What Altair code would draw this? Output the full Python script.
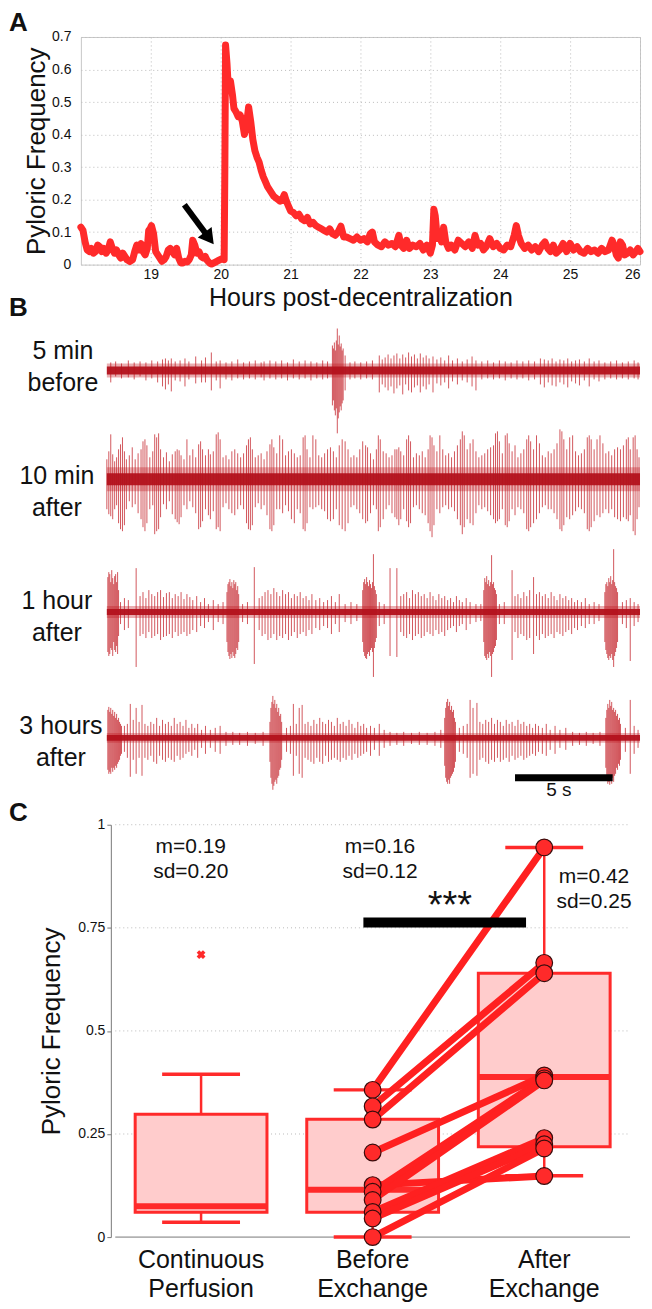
import altair as alt
import pandas as pd

FONT = "Liberation Sans"
RED = "#ff2a2a"
TRACE_RED = "#c0161f"
CORE_RED = "#b3121c"

# ---------------- Panel A: pyloric frequency vs time ----------------
hours = [18.00, 18.03, 18.06, 18.09, 18.12, 18.15, 18.18, 18.21, 18.24, 18.27, 18.30, 18.33, 18.36, 18.39,
         18.42, 18.45, 18.48, 18.51, 18.54, 18.57, 18.60, 18.63, 18.66, 18.70, 18.74, 18.77, 18.80, 18.83,
         18.86, 18.89, 18.92, 18.95, 18.97, 18.99, 19.01, 19.04, 19.07, 19.10, 19.13, 19.16, 19.19, 19.22,
         19.25, 19.28, 19.31, 19.34, 19.37, 19.40, 19.43, 19.46, 19.49, 19.52, 19.55, 19.58, 19.60, 19.63,
         19.66, 19.69, 19.72, 19.75, 19.78, 19.81, 19.84, 19.87, 19.90, 19.93, 19.96, 19.99, 20.02, 20.05,
         20.06, 20.07, 20.09, 20.11, 20.14, 20.17, 20.19, 20.22, 20.25, 20.28, 20.31, 20.34, 20.37, 20.40,
         20.43, 20.46, 20.49, 20.52, 20.55, 20.58, 20.61, 20.64, 20.67, 20.70, 20.73, 20.76, 20.79, 20.82,
         20.85, 20.88, 20.91, 20.94, 20.97, 21.00, 21.04, 21.08, 21.12, 21.16, 21.20, 21.24, 21.28, 21.32,
         21.36, 21.40, 21.44, 21.48, 21.52, 21.56, 21.60, 21.64, 21.68, 21.72, 21.76, 21.80, 21.85, 21.90,
         21.95, 22.00, 22.05, 22.10, 22.14, 22.17, 22.20, 22.25, 22.30, 22.35, 22.40, 22.45, 22.50, 22.55,
         22.58, 22.62, 22.66, 22.70, 22.75, 22.80, 22.85, 22.90, 22.95, 23.00, 23.03, 23.05, 23.07, 23.10,
         23.13, 23.16, 23.19, 23.22, 23.26, 23.30, 23.35, 23.40, 23.45, 23.50, 23.55, 23.60, 23.64, 23.68,
         23.72, 23.76, 23.80, 23.85, 23.90, 23.95, 24.00, 24.05, 24.10, 24.15, 24.20, 24.23, 24.26, 24.30,
         24.35, 24.40, 24.45, 24.50, 24.55, 24.60, 24.64, 24.68, 24.72, 24.76, 24.80, 24.85, 24.90, 24.95,
         25.00, 25.05, 25.10, 25.15, 25.20, 25.25, 25.30, 25.35, 25.40, 25.45, 25.50, 25.55, 25.60, 25.63,
         25.66, 25.69, 25.72, 25.75, 25.78, 25.82, 25.86, 25.90, 25.94, 25.97, 26.00]
pyloric_freq = [0.115, 0.105, 0.070, 0.045, 0.040, 0.050, 0.035, 0.040, 0.060, 0.055, 0.040, 0.050, 0.035, 0.045,
                0.070, 0.050, 0.035, 0.045, 0.030, 0.020, 0.035, 0.025, 0.015, 0.010, 0.015, 0.040, 0.060, 0.045,
                0.065, 0.040, 0.030, 0.050, 0.105, 0.110, 0.120, 0.095, 0.040, 0.030, 0.020, 0.010, 0.015, 0.025,
                0.045, 0.050, 0.040, 0.030, 0.050, 0.020, 0.005, 0.005, 0.010, 0.008, 0.015, 0.030, 0.075, 0.060,
                0.035, 0.040, 0.025, 0.020, 0.025, 0.012, 0.005, 0.002, 0.005, 0.008, 0.012, 0.015, 0.018, 0.015,
                0.300, 0.675, 0.620, 0.540, 0.565, 0.520, 0.480, 0.470, 0.455, 0.460, 0.440, 0.400, 0.430, 0.485,
                0.440, 0.385, 0.350, 0.330, 0.315, 0.290, 0.270, 0.255, 0.240, 0.230, 0.220, 0.210, 0.205, 0.200,
                0.195, 0.200, 0.215, 0.195, 0.180, 0.165, 0.160, 0.150, 0.155, 0.140, 0.135, 0.145, 0.125, 0.130,
                0.120, 0.115, 0.110, 0.105, 0.100, 0.110, 0.095, 0.090, 0.100, 0.118, 0.085, 0.085, 0.080, 0.075,
                0.085, 0.075, 0.080, 0.070, 0.095, 0.100, 0.070, 0.060, 0.055, 0.070, 0.060, 0.065, 0.055, 0.090,
                0.060, 0.050, 0.075, 0.050, 0.060, 0.055, 0.065, 0.045, 0.060, 0.035, 0.060, 0.170, 0.150, 0.080,
                0.090, 0.070, 0.115, 0.070, 0.050, 0.060, 0.045, 0.075, 0.065, 0.055, 0.070, 0.050, 0.090, 0.060,
                0.065, 0.045, 0.055, 0.080, 0.055, 0.065, 0.050, 0.045, 0.060, 0.055, 0.090, 0.120, 0.090, 0.065,
                0.050, 0.060, 0.045, 0.055, 0.040, 0.060, 0.070, 0.050, 0.040, 0.060, 0.035, 0.045, 0.065, 0.040,
                0.065, 0.045, 0.055, 0.040, 0.035, 0.050, 0.040, 0.045, 0.035, 0.050, 0.040, 0.045, 0.075, 0.060,
                0.030, 0.020, 0.070, 0.060, 0.030, 0.035, 0.045, 0.030, 0.040, 0.050, 0.040]
x_ticks_a = [19, 20, 21, 22, 23, 24, 25, 26]
y_ticks_a = [0, 0.1, 0.2, 0.3, 0.4, 0.5, 0.6, 0.7]
arrow_start = (19.48, 0.184)
arrow_tip = (19.836, 0.081)

# ---------------- Panel B: extracellular traces ----------------
SAMPLE_DT = 0.05  # seconds per bin
trace_labels = ["5 min\nbefore", "10 min\nafter", "1 hour\nafter", "3 hours\nafter"]
# (bin, upward amplitude, downward amplitude)
trace1 = [(4,8,12),(9,9,6),(15,7,8),(22,10,7),(28,8,9),(34,9,6),(40,8,10),(46,10,8),(52,9,12),(57,11,16),
          (60,12,19),(63,10,14),(66,12,21),(70,9,10),(75,10,11),(80,12,16),(84,9,9),(91,14,13),(97,10,12),
          (101,13,12),(107,18,20),(112,9,10),(116,10,18),(122,8,9),(128,9,10),(134,11,8),(140,8,9),(146,9,8),
          (152,10,9),(158,8,7),(161,9,10),(167,10,8),(173,9,9),(179,10,8),(185,8,10),(191,11,8),(197,9,9),
          (203,10,8),(209,9,10),(215,8,8),(221,10,9),(226,9,8),
          (231,25,35),(232,22,30),(233,28,40),(234,20,45),(235,30,38),(236,42,63),(237,26,48),(238,35,42),
          (239,24,36),(240,27,40),(241,20,33),(242,22,30),(244,15,20),
          (249,8,9),(254,9,8),(260,8,9),(266,9,8),(272,10,9),
          (279,15,22),(282,11,14),(285,13,17),(288,16,20),(291,12,16),(294,15,23),(297,17,18),(300,12,15),
          (303,16,24),(306,13,14),(309,18,20),(312,14,22),(315,16,17),(318,12,15),(321,17,22),(324,13,16),
          (327,15,19),(330,12,14),(334,14,22),(338,11,13),(342,13,15),(346,10,12),(350,15,18),(354,10,11),
          (359,12,14),(364,9,10),(369,11,12),(374,14,16),(378,10,20),
          (384,9,9),(390,10,8),(396,8,9),(402,10,8),(408,9,10),(414,8,8),(420,10,9),(426,9,8),(432,10,10),
          (438,9,9),(444,12,14),(448,11,17),(452,10,12),(456,12,15),(460,9,16),(464,11,12),(468,10,14),
          (472,12,17),(476,9,11),(480,10,13),(484,11,15),(489,9,10),(494,12,16),(499,9,9),(504,10,11),
          (510,8,9),(516,9,8),(522,10,9),(528,8,8),(534,9,9),(540,10,8),(544,8,9)]
trace2 = [(0,20,30),(2,28,35),(4,45,37),(6,25,40),(8,18,30),(10,22,26),(12,30,44),(14,35,50),(16,42,52),
          (18,28,46),(20,20,30),(23,24,22),(26,32,28),(29,20,25),(32,26,34),(35,30,40),(37,38,48),(39,40,52),
          (41,34,44),(44,22,30),(47,28,26),(49,45,55),(51,42,52),(53,46,50),(55,30,38),(58,22,25),(61,27,30),
          (64,18,22),(67,25,35),(70,28,40),(72,30,43),(74,29,45),(76,24,38),(79,20,26),(82,40,30),(85,24,22),
          (88,30,28),(91,22,34),(94,35,50),(96,38,48),(98,30,42),(101,24,30),(104,30,36),(106,25,40),
          (109,28,32),(112,45,50),(114,47,48),(116,40,52),(119,22,28),(122,24,24),(125,20,30),(128,28,34),
          (131,30,36),(134,26,30),(137,22,26),(140,26,30),(143,34,44),(145,40,50),(147,42,51),(149,30,46),
          (152,22,28),(155,24,24),(158,26,30),(161,20,26),(164,28,36),(167,35,50),(169,40,52),(171,32,46),
          (174,26,30),(177,44,30),(180,40,34),(183,24,26),(186,28,32),(189,30,40),(192,26,44),(195,22,30),
          (198,24,34),(201,42,50),(203,44,52),(205,30,44),(208,22,28),(211,44,30),(214,40,28),(217,24,26),
          (220,22,30),(223,26,32),(226,30,40),(229,32,42),(232,28,40),(235,22,30),(238,34,46),(241,40,50),
          (244,38,52),(247,30,44),(250,22,28),(253,24,26),(256,22,30),(259,30,34),(262,38,40),(265,34,44),
          (267,32,42),(270,26,34),(273,20,26),(276,30,30),(278,44,52),(280,40,48),(283,28,40),(286,26,30),
          (289,22,26),(292,24,34),(295,30,38),(297,30,40),(299,32,46),(301,28,40),(304,24,30),(307,40,42),
          (309,44,48),(311,38,44),(314,22,28),(317,26,26),(320,24,30),(323,28,34),(326,22,36),(329,30,44),
          (331,44,52),(333,42,58),(335,34,46),(338,28,30),(341,44,34),(344,30,28),(347,24,26),(350,26,30),
          (353,22,28),(356,28,32),(359,34,40),(362,40,46),(364,48,55),(366,44,48),(369,30,40),(372,36,44),
          (375,40,46),(378,28,34),(381,22,26),(384,24,30),(387,26,28),(390,30,32),(393,32,36),(396,34,40),
          (398,46,44),(400,48,42),(402,38,40),(405,26,30),(408,44,46),(410,46,48),(412,36,42),(415,28,30),
          (418,34,36),(421,22,28),(424,26,30),(427,30,34),(430,40,50),(432,44,52),(434,38,48),(437,30,44),
          (440,44,40),(443,36,34),(446,24,28),(449,22,26),(452,28,30),(455,26,30),(458,30,34),(461,36,40),
          (464,50,50),(466,48,52),(468,40,46),(471,30,38),(474,42,40),(477,44,36),(480,28,32),(483,24,28),
          (486,26,30),(489,30,34),(492,42,50),(494,44,52),(496,40,48),(499,30,42),(502,40,36),(505,44,38),
          (508,36,34),(511,26,30),(514,28,34),(517,24,30),(520,30,38),(523,32,40),(526,30,42),(529,34,38),
          (532,40,40),(534,42,42),(536,30,36),(539,42,52),(541,44,56),(543,30,40),(545,22,28)]
trace3 = [(1,35,40),(2,40,44),(3,38,42),(4,30,36),(5,42,38),(6,34,44),(7,28,30),(8,36,38),(9,38,40),(10,30,34),
          (11,40,42),(12,22,24),(14,10,12),(18,14,18),(22,12,16),(30,44,55),
          (34,16,24),(37,20,22),(40,14,26),(43,22,20),(46,18,26),(49,16,24),(52,20,22),(55,22,28),(58,15,25),
          (61,19,24),(64,20,22),(67,14,26),(70,18,20),(73,16,24),(76,20,22),(79,13,20),(82,18,24),(85,15,22),
          (88,12,18),(92,16,20),(96,10,14),(100,14,16),(104,8,10),(109,12,18),(114,8,10),(119,10,12),
          (123,20,30),(124,28,40),(125,30,44),(126,33,47),(127,26,42),(128,30,46),(129,24,40),(130,32,44),
          (131,28,46),(132,30,42),(133,22,36),(134,26,38),(135,18,30),(139,8,10),(144,10,12),(151,45,52),
          (156,14,18),(159,16,24),(162,20,22),(165,22,28),(168,18,26),(171,24,22),(174,20,28),(177,16,24),
          (180,22,26),(183,18,22),(186,20,28),(189,14,24),(192,18,20),(195,16,26),(198,20,22),(201,14,20),
          (204,16,24),(207,12,18),(210,18,22),(214,12,16),(218,14,18),(222,10,14),(226,12,16),(230,16,22),
          (234,10,12),(238,18,20),(244,8,10),(250,10,12),(256,8,9),
          (262,22,30),(263,30,40),(264,33,44),(265,28,46),(266,35,47),(267,30,42),(268,26,40),(269,32,44),
          (270,28,38),(271,24,36),(272,30,40),(273,58,65),(274,26,36),(275,22,30),(276,18,26),
          (279,10,14),(284,8,12),(290,44,44),(297,44,45),
          (301,16,20),(304,18,24),(307,20,26),(310,14,22),(313,22,28),(316,18,24),(319,20,22),(322,16,26),
          (325,18,24),(328,14,20),(331,20,22),(334,16,24),(337,12,18),(340,18,22),(343,14,20),(346,16,24),
          (349,12,18),(352,14,16),(355,10,14),(358,16,20),(361,12,14),(364,10,12),(368,14,18),(372,10,12),
          (378,8,10),(383,8,9),
          (386,22,30),(387,34,44),(388,30,46),(389,36,48),(390,28,42),(391,32,46),(392,26,40),(393,30,44),
          (394,57,65),(395,28,42),(396,30,40),(397,24,36),(398,22,34),(399,18,28),(402,8,12),(407,10,12),
          (415,42,48),(418,16,20),(421,18,26),(424,14,22),(427,20,24),(430,16,28),(433,22,26),(437,35,42),
          (440,18,24),(443,20,28),(446,16,22),(449,18,26),(452,14,24),(455,20,22),(458,16,26),(461,12,20),
          (464,18,22),(467,14,24),(470,16,20),(473,12,18),(476,14,22),(479,10,16),(482,12,18),(486,10,14),
          (490,14,16),(494,8,12),(499,10,12),(504,8,9),
          (510,20,30),(511,28,38),(512,30,42),(513,26,46),(514,34,48),(515,30,44),(516,36,46),(517,28,42),
          (518,32,48),(519,63,55),(520,30,44),(521,26,40),(522,24,36),(523,20,30),
          (528,10,12),(532,12,16),(536,14,49),(540,10,14),(544,8,10)]
trace4 = [(1,28,32),(2,31,36),(3,26,34),(4,30,36),(5,24,30),(6,28,34),(7,22,30),(8,26,32),(9,20,28),(10,24,30),
          (11,18,26),(12,20,24),(13,16,22),(14,14,18),(15,12,16),(18,12,14),(21,14,20),(24,34,39),(27,18,22),
          (30,30,36),(33,16,20),(36,33,38),(39,14,20),(42,12,22),(45,16,18),(48,14,24),(51,20,26),(54,12,18),
          (57,18,22),(60,14,24),(63,16,20),(66,12,22),(69,20,24),(72,14,18),(75,16,22),(78,12,20),(81,18,16),
          (84,10,14),(87,14,18),(90,10,12),(93,14,20),(97,8,10),(101,12,16),(106,8,10),(111,10,14),(116,12,16),
          (122,6,8),(129,6,7),(136,5,7),(144,6,8),(152,5,6),(160,6,8),
          (167,16,24),(168,30,40),(169,36,46),(170,42,52),(171,34,48),(172,38,44),(173,30,42),(174,34,46),
          (175,26,40),(176,30,38),(177,22,32),(178,24,30),(179,16,22),(184,10,14),(188,12,16),(191,34,38),
          (194,14,18),(197,30,36),(200,33,40),(203,14,20),(206,16,22),(209,12,24),(212,18,26),(215,14,20),
          (218,20,24),(221,16,26),(224,14,18),(227,18,24),(230,16,22),(233,12,20),(236,20,22),(239,14,24),
          (242,16,20),(245,12,22),(248,18,18),(251,14,22),(254,10,16),(257,16,20),(260,12,18),(263,14,16),
          (266,10,14),(270,12,18),(274,10,12),(279,14,18),(284,8,10),(290,6,8),(297,5,7),(304,6,8),(312,5,6),
          (320,6,7),(328,5,7),(336,6,8),(342,8,10),
          (346,20,28),(347,30,40),(348,36,44),(349,39,46),(350,32,42),(351,36,46),(352,28,40),(353,32,38),
          (354,26,36),(355,28,34),(356,20,30),(357,16,24),(361,10,14),(365,12,16),(369,14,20),(372,38,40),
          (375,30,36),(379,35,38),(382,16,22),(385,14,20),(388,18,24),(391,16,26),(394,20,22),(397,14,24),
          (400,18,20),(403,16,24),(406,12,22),(409,18,20),(412,14,24),(415,16,18),(418,12,22),(421,18,20),
          (424,14,18),(427,16,22),(430,12,20),(433,14,18),(436,10,16),(439,14,18),(442,12,14),(446,10,16),
          (450,14,18),(454,8,12),(459,12,16),(464,8,10),(470,10,12),(477,6,8),(484,5,7),(491,6,8),(498,5,6),
          (505,6,8),
          (511,20,30),(512,28,40),(513,34,46),(514,30,44),(515,38,47),(516,32,42),(517,36,46),(518,28,40),
          (519,30,44),(520,26,38),(521,28,36),(522,22,30),(523,24,32),(524,18,26),(525,20,28),(526,14,22),
          (531,10,14),(536,38,36),(540,12,16),(544,8,10)]
traces = [trace1, trace2, trace3, trace4]
trace_end_bin = 546
noise_core = [4, 6, 3, 3]
noise_fuzz = [7, 12, 6, 5]
scalebar_start_s = 20.9
scalebar_len_s = 5.0

# ---------------- Panel C: group comparison ----------------
groups = ["Continuous\nPerfusion", "Before\nExchange", "After\nExchange"]
box_q1 = [0.060, 0.060, 0.219]
box_med = [0.075, 0.115, 0.388]
box_q3 = [0.298, 0.286, 0.640]
whisk_lo = [0.036, 0.000, 0.149]
whisk_hi = [0.395, 0.357, 0.945]
outlier_group = [0]
outlier_val = [0.685]
before_vals = [0.357, 0.317, 0.285, 0.205, 0.126, 0.110, 0.090, 0.061, 0.045, 0.000]
after_vals = [0.945, 0.665, 0.640, 0.392, 0.148, 0.385, 0.380, 0.240, 0.225, 0.215]
stat_text = ["m=0.19\nsd=0.20", "m=0.16\nsd=0.12", "m=0.42\nsd=0.25"]
stat_x = [-0.06, 1.043, 2.29]
stat_y = [0.947, 0.947, 0.874]
y_ticks_c = [0, 0.25, 0.5, 0.75, 1]

# ======================= build charts =======================
TXT = "#111111"

# ---- Panel A ----
A_W, A_H = 560, 228
dfA = pd.DataFrame({"h": hours, "f": pyloric_freq})
axisXA = alt.Axis(values=x_ticks_a, format="d", title="Hours post-decentralization", titleFontSize=25,
                  titleFontWeight="normal", titleY=33, titleBaseline="middle", labelFontSize=14,
                  labelPadding=3, ticks=False, domain=False, grid=True, gridDash=[1, 3],
                  gridColor="#bbbbbb", labelFlush=True, labelOverlap=False, labelColor=TXT, titleColor=TXT)
axisYA = alt.Axis(values=y_ticks_a, format=".1~f", title="Pyloric Frequency", titleFontSize=26,
                  titleFontWeight="normal", titleX=-44, titleY=114, titleAngle=-90, titleBaseline="middle",
                  titleAlign="center", labelFontSize=14, labelPadding=10, ticks=False, domain=False,
                  grid=True, gridDash=[1, 3], gridColor="#bbbbbb", labelFlush=False, labelOverlap=False,
                  labelColor=TXT, titleColor=TXT)
sXA = alt.Scale(domain=[18, 26], nice=False, zero=False)
sYA = alt.Scale(domain=[0, 0.7], nice=False)


def XA(f):
    return alt.X(f, scale=sXA, axis=axisXA)


def YA(f):
    return alt.Y(f, scale=sYA, axis=axisYA)


lineA = alt.Chart(dfA).mark_line(color=RED, strokeWidth=7, strokeJoin="round", strokeCap="round").encode(
    x=XA("h:Q"), y=YA("f:Q"))
dfArrow = pd.DataFrame({"h": [arrow_start[0]], "f": [arrow_start[1]], "h2": [arrow_tip[0]], "f2": [arrow_tip[1]]})
arrowShaft = alt.Chart(dfArrow).mark_rule(color="black", strokeWidth=6).encode(
    x=XA("h:Q"), y=YA("f:Q"), x2="h2:Q", y2="f2:Q")
arrowHead = alt.Chart(dfArrow).mark_point(shape="triangle-up", angle=143, size=300, filled=True,
                                         color="black", opacity=1).encode(x=XA("h2:Q"), y=YA("f2:Q"))


def letter(ch, ypx):
    return alt.Chart(pd.DataFrame({"t": [ch]})).mark_text(
        fontSize=26, fontWeight="bold", align="left", baseline="middle", color=TXT).encode(
        text="t:N", x=alt.value(-72), y=alt.value(ypx))


panelA = alt.layer(lineA, arrowShaft, arrowHead, letter("A", -14), letter("B", 271)).properties(
    width=A_W, height=A_H, view=alt.ViewBackground(stroke="#c8c8c8", strokeWidth=1))

# ---- Panel B ----
T_W, T_H = 560, 478
TRACE_BASE = [49, 158, 291, 417]
spk_rows, core_rows = [], []
for k, tr in enumerate(traces):
    b = TRACE_BASE[k]
    for (i, up, dn) in tr:
        spk_rows.append({"t": i * SAMPLE_DT, "y1": b - up, "y2": b + dn})
    core_rows.append({"t": 0.0, "t2": trace_end_bin * SAMPLE_DT, "y1": b - noise_fuzz[k], "y2": b + noise_fuzz[k], "kind": "fuzz"})
    core_rows.append({"t": 0.0, "t2": trace_end_bin * SAMPLE_DT, "y1": b - noise_core[k], "y2": b + noise_core[k], "kind": "core"})
dfSpk = pd.DataFrame(spk_rows)
dfCore = pd.DataFrame(core_rows)
xT = alt.X("t:Q", scale=alt.Scale(domain=[-1.33, 27.3], nice=False, zero=False), axis=None)
yT = alt.Y("y1:Q", scale=alt.Scale(domain=[0, T_H], reverse=True, nice=False, zero=False), axis=None)
fuzz = alt.Chart(dfCore[dfCore.kind == "fuzz"]).mark_rect(color=TRACE_RED, opacity=0.35).encode(
    x=xT, x2="t2:Q", y=yT, y2="y2:Q")
spikes = alt.Chart(dfSpk).mark_rule(color=TRACE_RED, strokeWidth=1, opacity=0.72).encode(
    x=xT, y=yT, y2="y2:Q")
core = alt.Chart(dfCore[dfCore.kind == "core"]).mark_rect(color=CORE_RED, opacity=0.95).encode(
    x=xT, x2="t2:Q", y=yT, y2="y2:Q")
dfLab = pd.DataFrame({"t": [-2.25, -2.56, -2.56, -2.35], "y1": [30, 155, 280, 405], "label": trace_labels})
labels = alt.Chart(dfLab).mark_text(fontSize=25, lineBreak="\n", lineHeight=32, align="center",
                                    baseline="middle", color=TXT).encode(x=xT, y=yT, text="label:N")
dfBar = pd.DataFrame({"t": [scalebar_start_s], "t2": [scalebar_start_s + scalebar_len_s], "y1": [457]})
sbar = alt.Chart(dfBar).mark_rule(color="black", strokeWidth=7).encode(x=xT, x2="t2:Q", y=yT)
dfBarTxt = pd.DataFrame({"t": [scalebar_start_s + scalebar_len_s / 2 - 0.25], "y1": [469], "label": ["5 s"]})
sbarTxt = alt.Chart(dfBarTxt).mark_text(fontSize=19, baseline="middle", color=TXT).encode(x=xT, y=yT, text="label:N")
panelB = alt.layer(fuzz, spikes, core, labels, sbar, sbarTxt).properties(width=T_W, height=T_H)

# ---- Panel C ----
C_H = 413
c_dom = [-0.6714, 2.5]
C_W = round((c_dom[1] - c_dom[0]) * 175)
axisC = alt.Axis(values=y_ticks_c, format=".2~f", offset=-30, title="Pyloric Frequency", titleFontSize=26,
                 titleFontWeight="normal", titlePadding=13, labelFontSize=14, labelPadding=2, tickSize=4,
                 tickColor="#777777", domainColor="#777777", grid=False, labelFlush=False, labelOverlap=False,
                 labelColor=TXT, titleColor=TXT)
sC = alt.Scale(domain=c_dom, nice=False, zero=False)
sY = alt.Scale(domain=[0, 1], nice=False)


def XC(f):
    return alt.X(f, scale=sC, axis=None)


def YC(f):
    return alt.Y(f, scale=sY, axis=axisC)


dfBox = pd.DataFrame({"c": [0, 1, 2], "q1": box_q1, "med": box_med, "q3": box_q3, "lo": whisk_lo, "hi": whisk_hi})
dfGrid = pd.DataFrame({"c": [-0.5] * 4, "c2": [2.5] * 4, "v": [0.25, 0.5, 0.75, 1.0]})
grid = alt.Chart(dfGrid).mark_rule(color="#bbbbbb", strokeDash=[1, 3], strokeWidth=1).encode(
    x=XC("c:Q"), x2="c2:Q", y=YC("v:Q"))
dfBase = pd.DataFrame({"c": [-0.5], "c2": [2.5], "v": [0.0]})
baseline = alt.Chart(dfBase).mark_rule(color="#777777", strokeWidth=1).encode(x=XC("c:Q"), x2="c2:Q", y=YC("v:Q"))
boxes = alt.Chart(dfBox).mark_bar(size=132, fill="#ffcccc", stroke=RED, strokeWidth=3).encode(
    x=XC("c:Q"), y=YC("q1:Q"), y2="q3:Q")
wh_up = alt.Chart(dfBox).mark_rule(color=RED, strokeWidth=2.5).encode(x=XC("c:Q"), y=YC("q3:Q"), y2="hi:Q")
wh_dn = alt.Chart(dfBox).mark_rule(color=RED, strokeWidth=2.5).encode(x=XC("c:Q"), y=YC("lo:Q"), y2="q1:Q")
cap_hi = alt.Chart(dfBox).mark_tick(orient="horizontal", size=78, thickness=3.5, color=RED, opacity=1).encode(
    x=XC("c:Q"), y=YC("hi:Q"))
cap_lo = alt.Chart(dfBox).mark_tick(orient="horizontal", size=78, thickness=3.5, color=RED, opacity=1).encode(
    x=XC("c:Q"), y=YC("lo:Q"))
medians = alt.Chart(dfBox).mark_tick(orient="horizontal", size=132, thickness=6, color=RED, opacity=1).encode(
    x=XC("c:Q"), y=YC("med:Q"))
dfOut = pd.DataFrame({"c": outlier_group, "v": outlier_val})
outl = alt.Chart(dfOut).mark_point(shape="cross", angle=45, size=80, filled=True, color=RED, opacity=1).encode(
    x=XC("c:Q"), y=YC("v:Q"))
pair_rows = []
for i, (b, a) in enumerate(zip(before_vals, after_vals)):
    pair_rows.append({"pair": i, "c": 1, "v": b})
    pair_rows.append({"pair": i, "c": 2, "v": a})
dfPairs = pd.DataFrame(pair_rows)
plines = alt.Chart(dfPairs).mark_line(color="#ff2020", strokeWidth=7, strokeCap="round").encode(
    x=XC("c:Q"), y=YC("v:Q"), detail="pair:N")
pdots = alt.Chart(dfPairs).mark_circle(size=280, color=RED, stroke="#3a0c0c", strokeWidth=1.2, opacity=1).encode(
    x=XC("c:Q"), y=YC("v:Q"))
dfSig = pd.DataFrame({"c": [0.946], "c2": [1.894], "v": [0.763]})
sigbar = alt.Chart(dfSig).mark_rule(color="black", strokeWidth=10).encode(x=XC("c:Q"), x2="c2:Q", y=YC("v:Q"))
dfStars = pd.DataFrame({"c": [1.45], "v": [0.801], "label": ["***"]})
stars = alt.Chart(dfStars).mark_text(fontSize=38, baseline="middle", color=TXT).encode(
    x=XC("c:Q"), y=YC("v:Q"), text="label:N")
dfStat = pd.DataFrame({"c": stat_x, "v": stat_y, "label": stat_text})
stats = alt.Chart(dfStat).mark_text(fontSize=21, lineBreak="\n", lineHeight=25, baseline="middle", color=TXT).encode(
    x=XC("c:Q"), y=YC("v:Q"), text="label:N")
dfGroups = pd.DataFrame({"c": [0, 1, 2], "label": groups})
glabels = alt.Chart(dfGroups).mark_text(fontSize=25, lineBreak="\n", lineHeight=29, baseline="middle", color=TXT).encode(
    x=XC("c:Q"), y=alt.value(C_H + 23), text="label:N")
letterC = alt.Chart(pd.DataFrame({"t": ["C"]})).mark_text(fontSize=26, fontWeight="bold", align="left",
                                                           baseline="middle", color=TXT).encode(
    text="t:N", x=alt.value(-72), y=alt.value(-12))
panelC = alt.layer(grid, baseline, boxes, wh_up, wh_dn, cap_hi, cap_lo, medians, outl, plines, pdots,
                   sigbar, stars, stats, glabels, letterC).properties(width=C_W, height=C_H)

chart = alt.vconcat(panelA, panelB, panelC, spacing=0).properties(padding=0).configure(
    font=FONT).configure_view(stroke=None).configure_axis(labelFont=FONT, titleFont=FONT)

chart.save("out.html", embed_options={"renderer": "svg", "actions": False})
